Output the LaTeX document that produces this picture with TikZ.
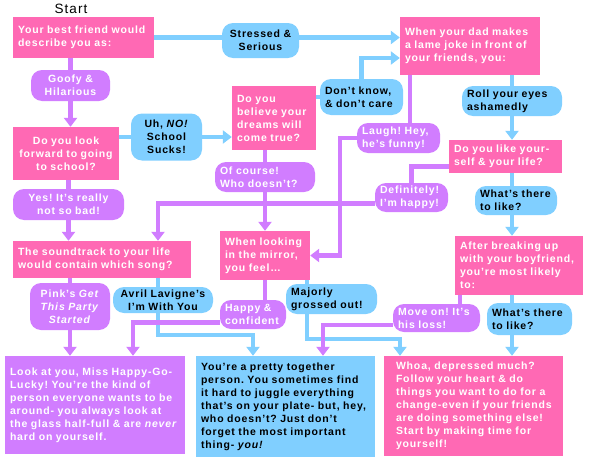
\documentclass[tikz,border=0pt]{standalone}
\usepackage{fontspec}
\setmainfont{Liberation Sans}[LetterSpace=8]
\usetikzlibrary{arrows.meta,backgrounds,calc}
\definecolor{hotpink}{HTML}{FF69B4}
\definecolor{lilac}{HTML}{D17DFF}
\definecolor{skyblue}{HTML}{80CFFF}
\frenchspacing
\begin{document}
\begin{tikzpicture}[x=1pt, y=-1pt,
    txt/.style={font=\fontsize{10.5}{13}\selectfont\bfseries, inner xsep=5pt, inner ysep=2pt},
    question/.style={txt, fill=hotpink, text=white, align=left},
    ppill/.style={txt, fill=lilac, text=white, rounded corners=11pt, align=left},
    bpill/.style={txt, fill=skyblue, text=black, rounded corners=11pt, align=left},
    pline/.style={lilac, line width=4.5pt},
    bline/.style={skyblue, line width=4.5pt},
    arr/.style={-{Triangle[width=13pt,length=9pt]}}]
        \useasboundingbox (0,0) rectangle (590,466);

        % Start
        \node[font=\fontsize{13.5}{15}\selectfont] (start) at (71,9) {Start};

        % Questions
        \node[question, text width=131pt, minimum height=41pt] (q1) at (83.5,37.5) {Your best friend would\\describe you as:};
        \node[question, text width=74pt, minimum height=64pt] (q2) at (274,118) {Do you\\believe your\\dreams will\\come true?};
        \node[question, text width=130pt, minimum height=58pt] (q3) at (470,46) {When your dad makes\\a lame joke in front of\\your friends, you:};
        \node[question, text width=96pt, minimum height=53pt, align=center] (q4) at (66,153.5) {Do you look\\forward to going\\to school?};
        \node[question, text width=80pt, minimum height=49pt] (q5) at (265,255.5) {When looking\\in the mirror,\\you feel\ldots};
        \node[question, text width=168pt, minimum height=37pt] (q6) at (102,259.5) {The soundtrack to your life\\would contain which song?};
        \node[question, text width=103pt, minimum height=33pt] (q7) at (505.5,156.5) {Do you like your-\\self \& your life?};
        \node[question, text width=118pt, minimum height=59pt] (q8) at (519,265.5) {After breaking up\\with your boyfriend,\\you're most likely\\to:};

        % Answers
        \node[ppill, text width=69pt, minimum height=31pt, align=center] (goofy) at (70.5,85.5) {Goofy \&\\Hilarious};
        \node[bpill, text width=67pt, minimum height=35pt, align=center] (stressed) at (260.5,40.5) {Stressed \&\\Serious};
        \node[bpill, text width=61pt, minimum height=47pt, align=center] (uhno) at (166.5,137) {Uh, \textit{NO!}\\School\\Sucks!};
        \node[bpill, text width=73pt, minimum height=36pt] (dontknow) at (361.5,97) {Don't know,\\\& don't care};
        \node[ppill, text width=90pt, minimum height=30pt] (ofcourse) at (265,177) {Of course!\\Who doesn't?};
        \node[ppill, text width=73pt, minimum height=30pt] (laugh) at (398.5,138) {Laugh! Hey,\\he's funny!};
        \node[bpill, text width=90pt, minimum height=30pt] (roll) at (512,101) {Roll your eyes\\ashamedly};
        \node[ppill, text width=63pt, minimum height=29pt] (definitely) at (411.5,197.5) {Definitely!\\I'm happy!};
        \node[bpill, text width=72pt, minimum height=29pt] (whats1) at (516,200.5) {What's there\\to like?};
        \node[ppill, text width=101pt, minimum height=31pt, align=center] (yes) at (68.5,204.5) {Yes! It's really\\not so bad!};
        \node[ppill, text width=70pt, minimum height=47pt, align=center] (pinks) at (70,306.5) {Pink's \textit{Get}\\\textit{This Party}\\\textit{Started}};
        \node[bpill, text width=90pt, minimum height=26pt, align=center] (avril) at (163,300) {Avril Lavigne's\\I'm With You};
        \node[ppill, text width=56pt, minimum height=29pt] (happy) at (253,314.5) {Happy \&\\confident};
        \node[bpill, text width=81pt, minimum height=30pt] (majorly) at (331.5,299) {Majorly\\grossed out!};
        \node[ppill, text width=77pt, minimum height=28pt] (moveon) at (436.5,318) {Move on! It's\\his loss!};
        \node[bpill, text width=75pt, minimum height=32pt] (whats2) at (529.5,319) {What's there\\to like?};

        % Results
        \node[txt, fill=lilac, text=white, align=left, text width=170pt, minimum height=98pt] (res1) at (95,405) {Look at you, Miss Happy-Go-\\Lucky! You're the kind of\\person everyone wants to be\\around- you always look at\\the glass half-full \& are \textit{never}\\hard on yourself.};
        \node[txt, fill=skyblue, text=black, align=left, text width=169pt, minimum height=101pt] (res2) at (285.5,406.5) {You're a pretty together\\person. You sometimes find\\it hard to juggle everything\\that's on your plate- but, hey,\\who doesn't? Just don't\\forget the most important\\thing- \textit{you!}};
        \node[txt, fill=hotpink, text=white, align=left, inner xsep=12pt, text width=155pt, minimum height=100pt] (res3) at (473.5,406) {Whoa, depressed much?\\Follow your heart \& do\\things you want to do for a\\change-even if your friends\\are doing something else!\\Start by making time for\\yourself!};

        \begin{pgfonlayer}{background}
        \fill[white] (0,0) rectangle (590,466);

        % Blue paths
        \draw[bline, arr] (q1.east) -- (q1.east -| q3.west);
        \draw[bline, arr] (uhno -| q4.east) -- (uhno -| q2.west);
        \draw[bline] (dontknow -| q2.east) -- (dontknow.west);
        \draw[bline, arr] (dontknow.north) |- ([yshift=-12pt]q3.west);
        \draw[bline, arr] (roll |- q3.south) -- (roll |- q7.north);
        \draw[bline, arr] (roll |- q7.south) -- (roll |- q8.north);
        \draw[bline, arr] (roll |- q8.south) -- (roll |- res3.north);
        \draw[bline, arr] ([xshift=42pt]q5.south) -- ++(0,59) -| ([xshift=-73.5pt]res3.north);
        \draw[bline, arr] ([xshift=56pt]q6.south) -- ++(0,57) -| ([xshift=-32.5pt]res2.north);

        % Purple paths
        \draw[pline, arr] (goofy |- q1.south) -- (goofy |- q4.north);
        \draw[pline, arr] (yes |- q4.south) -- (yes |- q6.north);
        \draw[pline, arr] (ofcourse |- q2.south) -- (ofcourse |- q5.north);
        \draw[pline] ($(laugh.north |- q3.south)+(11.5,0)$) -- ($(laugh.north)+(11.5,0)$);
        \draw[pline, arr] (laugh.west) -- ++(-17,0) |- (q5.east);
        \draw[pline] ([yshift=-10pt]q7.west) -| (definitely.north);
        \draw[pline, arr] ([yshift=-6pt]definitely.west) -| ([xshift=56pt]q6.north);
        \draw[pline] (q5.south) -- (q5.south |- happy.north);
        \draw[pline, arr] ([yshift=-8pt]happy.west) -| ([xshift=38pt]res1.north);
        \draw[pline, arr] (pinks |- q6.south) -- (pinks |- res1.north);
        \draw[pline] ($(moveon.north |- q8.south)+(23.5,0)$) -- ($(moveon.north)+(23.5,0)$);
        \draw[pline, arr] ([yshift=-7pt]moveon.west) -| ([xshift=37.5pt]res2.north);
        \end{pgfonlayer}
\end{tikzpicture}
\end{document}
